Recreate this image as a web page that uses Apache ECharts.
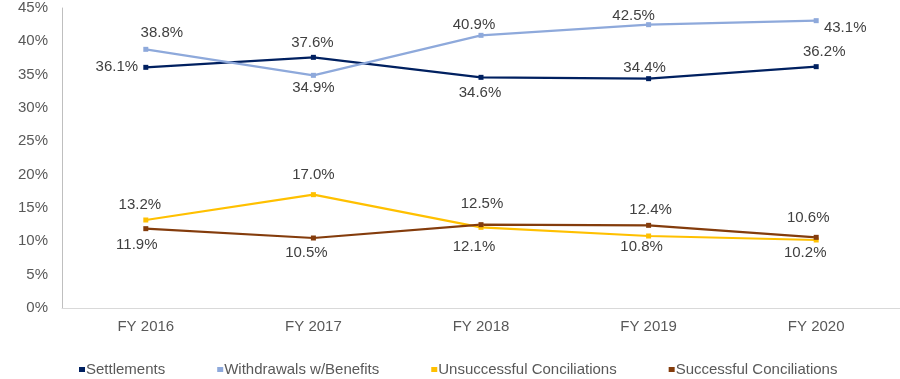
<!DOCTYPE html>
<html>
<head>
<meta charset="utf-8">
<script src="https://cdn.jsdelivr.net/npm/echarts@6/dist/echarts.min.js"></script>
<style>
html,body{margin:0;padding:0;background:#fff;}
#chart{width:900px;height:379px;}
</style>
</head>
<body>
<div id="chart"></div>
<script>
var categories = ['FY 2016', 'FY 2017', 'FY 2018', 'FY 2019', 'FY 2020'];
var settlements = [36.1, 37.6, 34.6, 34.4, 36.2];
var withdrawals = [38.8, 34.9, 40.9, 42.5, 43.1];
var unsuccessful = [13.2, 17.0, 12.1, 10.8, 10.2];
var successful = [11.9, 10.5, 12.5, 12.4, 10.6];
var yTicks = [0, 5, 10, 15, 20, 25, 30, 35, 40, 45];

// label offsets (label centre relative to the point), styling only
var offSettle = [[-29, 0], [-1, -14], [-1, 16], [-4, -11], [8, -15]];
var offWithdraw = [[16, -16], [0, 13], [-7, -10], [-15, -9], [29, 7]];
var offUnsucc = [[-6, -15], [0, -20], [-7, 20], [-7, 11], [-11, 13]];
var offSucc = [[-9, 16], [-7, 15], [1, -21], [2, -15], [-8, -19]];

var FONT = '"Liberation Sans", Arial, sans-serif';

function build(values, offs) {
  return values.map(function (v, i) {
    return {
      value: v,
      label: { position: 'inside', offset: offs[i] }
    };
  });
}

function series(name, values, offs, color) {
  return {
    name: name,
    type: 'line',
    data: build(values, offs),
    symbol: 'rect',
    symbolSize: 5,
    showAllSymbol: true,
    lineStyle: { color: color, width: 2.25 },
    itemStyle: { color: color },
    emphasis: { disabled: true },
    animation: false,
    label: {
      show: true,
      formatter: function (p) { return p.value.toFixed(1) + '%'; },
      color: '#404040',
      fontSize: 15,
      fontFamily: FONT
    }
  };
}

var chart = echarts.init(document.getElementById('chart'), null, { renderer: 'canvas' });
chart.setOption({
  backgroundColor: '#ffffff',
  animation: false,
  grid: { left: 62, right: 0, top: 8, bottom: 71, containLabel: false },
  legend: {
    left: 74,
    top: 357,
    itemWidth: 6,
    itemHeight: 5,
    itemGap: 52,
    icon: 'rect',
    textStyle: { color: '#595959', fontSize: 15, fontFamily: FONT, padding: [0, 0, 0, -4] },
    data: ['Settlements', 'Withdrawals w/Benefits', 'Unsuccessful Conciliations', 'Successful Conciliations']
  },
  xAxis: {
    type: 'category',
    data: categories,
    boundaryGap: true,
    axisLine: { show: true, lineStyle: { color: '#D9D9D9', width: 1 } },
    axisTick: { show: false },
    axisLabel: { color: '#595959', fontSize: 15, fontFamily: FONT, margin: 11 }
  },
  yAxis: {
    type: 'value',
    min: yTicks[0],
    max: yTicks[yTicks.length - 1],
    interval: 5,
    axisLine: { show: true, lineStyle: { color: '#BFBFBF', width: 1 } },
    axisTick: { show: false },
    splitLine: { show: false },
    axisLabel: { color: '#595959', fontSize: 15, fontFamily: FONT, margin: 14, formatter: '{value}%' }
  },
  series: [
    series('Settlements', settlements, offSettle, '#002060'),
    series('Withdrawals w/Benefits', withdrawals, offWithdraw, '#8EA9DB'),
    series('Unsuccessful Conciliations', unsuccessful, offUnsucc, '#FFC000'),
    series('Successful Conciliations', successful, offSucc, '#843C0C')
  ]
});
</script>
</body>
</html>
